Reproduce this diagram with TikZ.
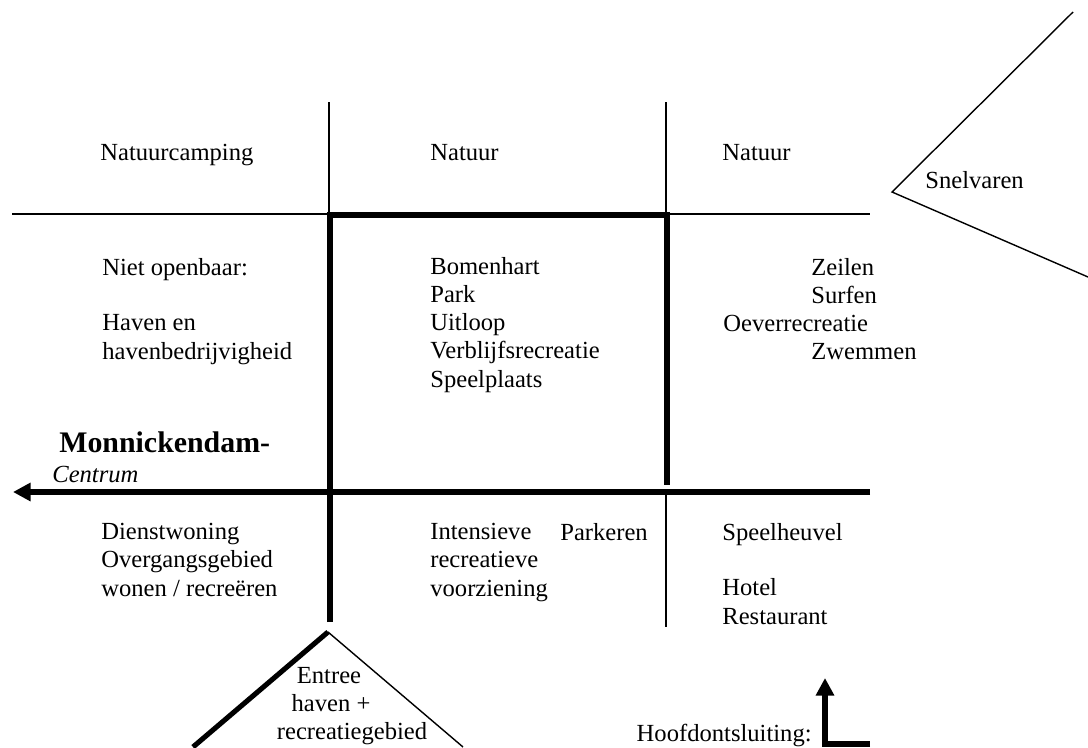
\documentclass[tikz,border=0pt]{standalone}
\usepackage{fontspec}
\setmainfont{Liberation Serif}
\usetikzlibrary{arrows.meta}

\begin{document}
\begin{tikzpicture}[x=0.02cm, y=-0.02cm,
	txt/.style={font=\fontsize{14}{16}\selectfont, inner sep=0pt, anchor=base west, align=left},
	thinline/.style={line width=0.8pt},
	thickline/.style={line width=2.9pt},
	bigarrow/.style={thickline, -{Triangle[length=10pt, width=10pt]}}]
	\useasboundingbox (0,0) rectangle (1088,747);
	% thin grid lines
	\draw[thinline] (12,214) -- (870,214);
	\draw[thinline] (329,102) -- (329,214);
	\draw[thinline] (666,102) -- (666,214);
	\draw[thinline] (666,492) -- (666,627);
	% thick core
	\draw[thickline] (330,622) -- (330,215) -- (667,215) -- (667,485);
	% main road to the centre
	\draw[bigarrow] (870,492) -- (13,492);
	% entrance
	\draw[thickline] (193,747) -- (328,632);
	\draw[thinline] (328,632) -- (463,747);
	% fast sailing
	\draw[thinline] (1073,12) -- (892,192) -- (1088,277);
	% legend arrow
	\draw[bigarrow] (870,744) -- (825,744) -- (825,678);

	% top row
	\node[txt] (camping) at (100,160) {Natuurcamping};
	\node[txt] (natuurA) at (430,160) {Natuur};
	\node[txt] (natuurB) at (722,160) {Natuur};
	\node[txt] (snel) at (925,188) {Snelvaren};
	% middle row (multi-line nodes sit on their last line)
	\node[txt] (nietopen) at (102,275) {Niet openbaar:};
	\node[txt] (haven) at (102,359) {Haven en\\havenbedrijvigheid};
	\node[txt] (hart) at (430,387) {Bomenhart\\Park\\Uitloop\\Verblijfsrecreatie\\Speelplaats};
	\node[txt] (zeilen) at (811,275) {Zeilen};
	\node[txt] (surfen) at (811,303) {Surfen};
	\node[txt] (oever) at (723,331) {Oeverrecreatie};
	\node[txt] (zwemmen) at (811,359) {Zwemmen};
	% road label
	\node[txt, font=\fontsize{17}{20}\selectfont\bfseries] (monnick) at (59,452) {Monnickendam-};
	\node[txt, font=\fontsize{14}{16}\selectfont\itshape] (centrum) at (52,482) {Centrum};
	% bottom row
	\node[txt] (dienst) at (101,596) {Dienstwoning\\Overgangsgebied\\wonen / recreëren};
	\node[txt] (intensief) at (430,596) {Intensieve\\recreatieve\\voorziening};
	\node[txt] (parkeren) at (560,540) {Parkeren};
	\node[txt] (speelheuvel) at (722,540) {Speelheuvel};
	\node[txt] (hotel) at (722,624) {Hotel\\Restaurant};
	% entrance label
	\node[txt, anchor=base] (entree) at (329,683) {Entree};
	\node[txt, anchor=base] (havenplus) at (331,711) {haven +};
	\node[txt, anchor=base] (recgebied) at (352,739) {recreatiegebied};
	% legend
	\node[txt, anchor=base east] (hoofd) at (812,741) {Hoofdontsluiting:};
\end{tikzpicture}
\end{document}
